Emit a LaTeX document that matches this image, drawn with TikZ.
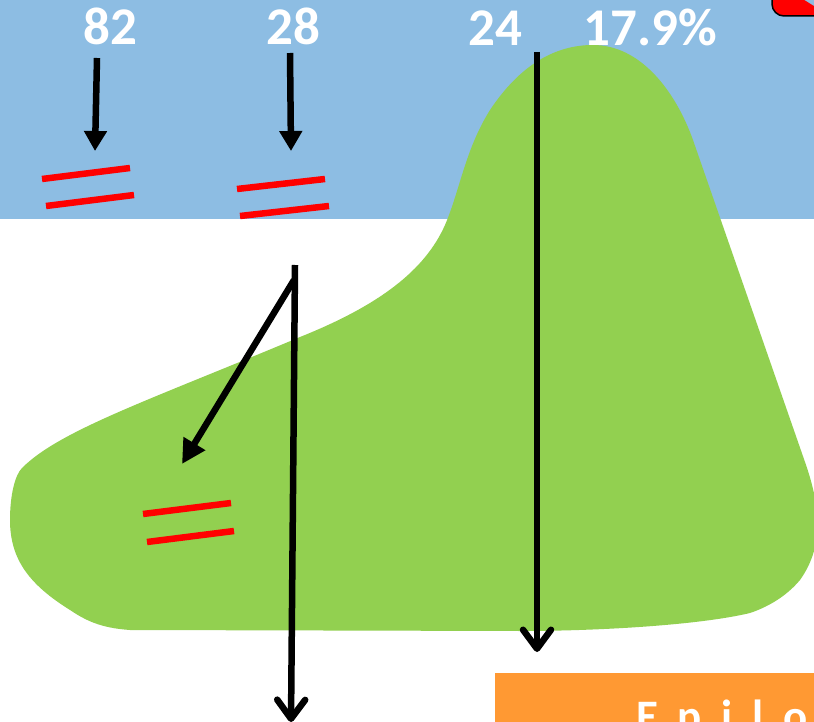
\documentclass[tikz,border=0pt]{standalone}
\usepackage{fontspec}
\setmainfont{Carlito}
\newfontfamily\spacedfont{Carlito}[LetterSpace=44]
\usetikzlibrary{arrows.meta}
\definecolor{skyblue}{RGB}{141,189,227}
\definecolor{hillgreen}{RGB}{146,208,80}
\definecolor{boxorange}{RGB}{255,153,51}
\tikzset{
  num/.style={text=white, font=\fontsize{53}{60}\selectfont\bfseries, inner sep=0pt, anchor=base},
  downarrow/.style={line width=6.5pt, -{Triangle[length=20pt,width=22pt]}},
  openarrow/.style={line width=6.5pt, -{Straight Barb[length=19pt,width=28pt,line cap=round,line join=round]}},
  eqbar/.style={red, line width=6.5pt},
}
\begin{document}
\begin{tikzpicture}[x=1pt,y=-1pt]
\useasboundingbox (0,0) rectangle (814,722);
\clip (0,0) rectangle (814,722);
% sky
\fill[skyblue] (0,0) rectangle (814,219);
% hill
\fill[hillgreen] (593,45) .. controls (640,45) and (675,90) .. (693,140)
  -- (805,462)
  .. controls (820,505) and (825,545) .. (800,580)
  .. controls (785,598) and (765,608) .. (750,613)
  .. controls (700,625) and (600,631) .. (520,631)
  -- (130,630)
  .. controls (100,628) and (85,620) .. (70,610)
  .. controls (30,585) and (10,560) .. (10,520)
  .. controls (10,495) and (15,475) .. (22,468)
  .. controls (60,430) and (150,400) .. (300,337)
  .. controls (380,305) and (425,270) .. (445,225)
  .. controls (460,190) and (465,150) .. (490,110)
  .. controls (520,65) and (555,45) .. (593,45) -- cycle;
% red corner shape
\draw[fill=red, line width=1.5pt, rounded corners=12pt] (772,-20) -- (772,16) -- (830,16);
% orange box
\fill[boxorange] (495,673) rectangle (830,740);
\node[text=white, inner sep=0pt, anchor=base west, font=\fontsize{45}{50}\selectfont\spacedfont\bfseries] (epi) at (636,731) {Epilo};
% numbers
\node[num] (n82) at (110,45) {82};
\node[num] (n28) at (293,45) {28};
\node[num] (n24) at (495,46) {24};
\node[num] (n179) at (650,46) {17.9\%};
% arrow endpoints
\coordinate (a82s) at (97,58);
\coordinate (a82e) at (95,151);
\coordinate (a28s) at (290,53);
\coordinate (a28e) at (291,151);
\coordinate (a24s) at (537,52);
\coordinate (a24e) at (537,652);
\coordinate (vs) at (295,265);
\coordinate (ve) at (291,722);
\coordinate (ds) at (294,280);
\coordinate (de) at (182,464);
\draw[downarrow] (a82s) -- (a82e);
\draw[downarrow] (a28s) -- (a28e);
\draw[line width=6.5pt, -{Triangle[length=24pt,width=24pt]}] (ds) -- (de);
\draw[openarrow] (a24s) -- (a24e);
\draw[openarrow] (vs) -- (ve);
% red equal signs
\draw[eqbar] (42,179) -- (130,168);
\draw[eqbar] (46,206) -- (134,195);
\draw[eqbar] (237,189) -- (325,179);
\draw[eqbar] (240,216) -- (329,206);
\draw[eqbar] (143,514) -- (231,503);
\draw[eqbar] (147,542) -- (234,531);
\end{tikzpicture}
\end{document}
